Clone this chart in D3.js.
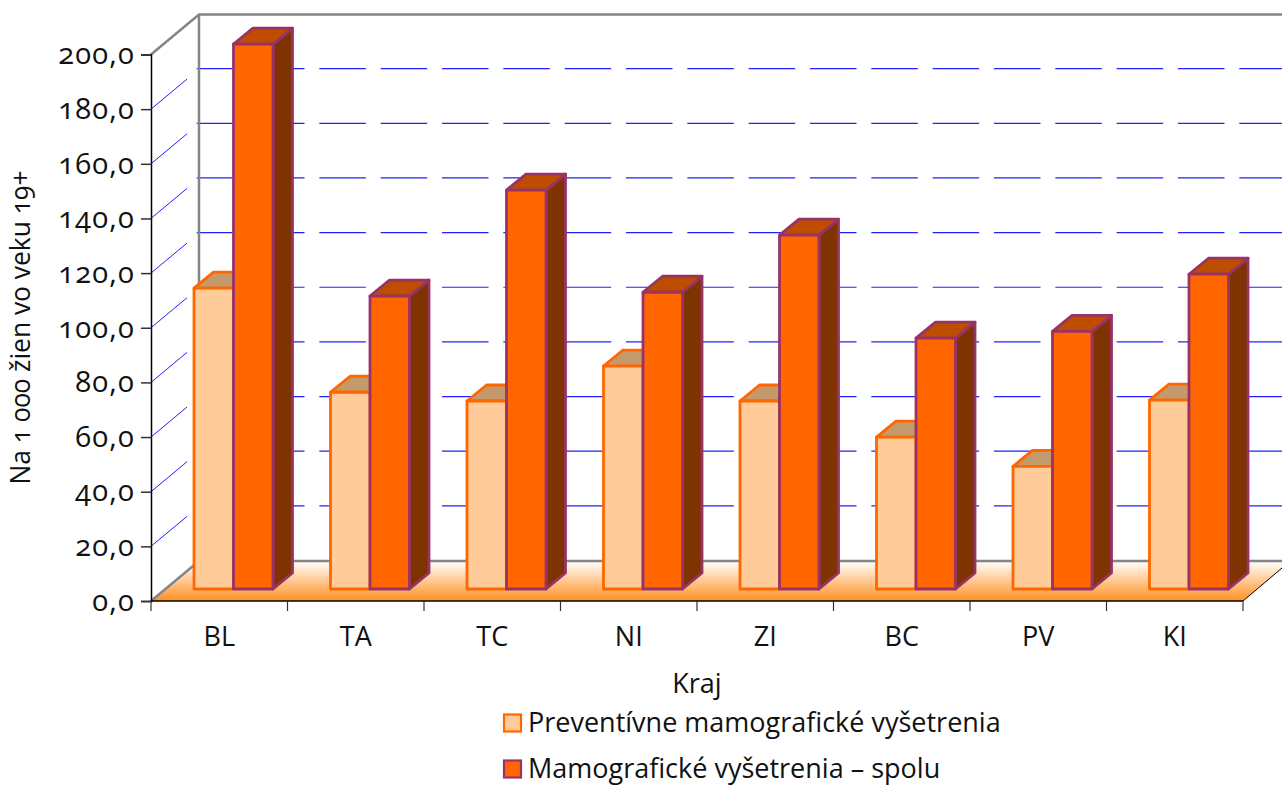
<!DOCTYPE html>
<html>
<head>
<meta charset="utf-8">
<script src="https://d3js.org/d3.v7.min.js"></script>
<style>
html, body { margin: 0; padding: 0; background: #fff; }
svg { display: block; }
text { font-family: "Open Sans", sans-serif; fill: #111; font-feature-settings: "onum" 1; font-variant-numeric: oldstyle-nums; }
</style>
</head>
<body>
<script>
var categories = ['BL', 'TA', 'TC', 'NI', 'ZI', 'BC', 'PV', 'KI'];
var preventive = [110.1, 72.0, 68.8, 81.6, 68.8, 55.6, 44.9, 69.1];
var total = [199.4, 107.2, 146.0, 108.6, 129.5, 91.8, 94.3, 115.2];
var yTicks = [0, 20, 40, 60, 80, 100, 120, 140, 160, 180, 200];
var seriesNames = ['Preventívne mamografické vyšetrenia', 'Mamografické vyšetrenia – spolu'];

var width = 1282;
var height = 785;

var svg = d3.select('body')
  .append('svg')
  .attr('width', width)
  .attr('height', height);

var x = d3.scaleBand()
    .domain(categories)
    .range([151, 1243]);

var y = d3.scaleLinear()
    .domain([0, 200])
    .range([601, 54.5]);

// wall offset of the fake 3d box, bar offset and bar depth
var wallX = 48, wallY = 40;
var shiftY = 12;
var barW = 39.5, barDX = 19.5, barDY = 16;

var defs = svg.append('defs');
var grad = defs.append('linearGradient')
  .attr('id', 'floor')
  .attr('x1', 0).attr('y1', 0).attr('x2', 0).attr('y2', 1);
grad.append('stop').attr('offset', '0%').attr('stop-color', '#ffffff');
grad.append('stop').attr('offset', '100%').attr('stop-color', '#ff9122');

// floor
svg.append('path')
  .attr('d', 'M' + x.range()[0] + ',' + y(0)
    + 'L' + (x.range()[0] + wallX) + ',' + (y(0) - wallY)
    + 'L' + width + ',' + (y(0) - wallY)
    + 'L' + width + ',' + (y(0) - 33)
    + 'L' + x.range()[1] + ',' + y(0) + 'Z')
  .attr('fill', 'url(#floor)');

// grid on the side wall and back wall
var gridTicks = yTicks.slice(1);
svg.selectAll('line.side')
  .data(gridTicks)
  .enter()
  .append('line')
  .attr('class', 'side')
  .attr('x1', x.range()[0])
  .attr('y1', function(d){ return y(d); })
  .attr('x2', x.range()[0] + 36)
  .attr('y2', function(d){ return y(d) - 30; })
  .attr('stroke', '#2222ff')
  .attr('stroke-width', 1);

svg.selectAll('line.back')
  .data(gridTicks.slice(0, -1))
  .enter()
  .append('line')
  .attr('class', 'back')
  .attr('x1', x.range()[0] + wallX - 2.3)
  .attr('y1', function(d){ return y(d) - wallY - 0.5; })
  .attr('x2', width)
  .attr('y2', function(d){ return y(d) - wallY - 0.5; })
  .attr('stroke', '#2222ff')
  .attr('stroke-width', 1.2)
  .attr('stroke-dasharray', '46.5,14.83');

// wall frame
svg.append('path')
  .attr('d', 'M' + x.range()[0] + ',' + y(0)
    + 'L' + (x.range()[0] + wallX) + ',' + (y(0) - wallY)
    + 'L' + width + ',' + (y(0) - wallY))
  .attr('fill', 'none')
  .attr('stroke', '#858585')
  .attr('stroke-width', 2.5);
svg.append('path')
  .attr('d', 'M' + x.range()[0] + ',' + y(200)
    + 'L' + (x.range()[0] + wallX) + ',' + (y(200) - wallY)
    + 'L' + width + ',' + (y(200) - wallY)
    + 'M' + (x.range()[0] + wallX) + ',' + (y(200) - wallY)
    + 'L' + (x.range()[0] + wallX) + ',' + (y(0) - wallY))
  .attr('fill', 'none')
  .attr('stroke', '#858585')
  .attr('stroke-width', 2.5);

// one 3d bar, v is the value and left the front left corner
function bar(left, v, front, top, side, edge) {
  var y0 = y(0) - shiftY, y1 = y(v) - shiftY;
  var g = svg.append('g')
    .attr('stroke', edge)
    .attr('stroke-width', 2.8)
    .attr('stroke-linejoin', 'round');
  g.append('path')
    .attr('d', 'M' + (left + barW) + ',' + y1
      + 'L' + (left + barW + barDX) + ',' + (y1 - barDY)
      + 'L' + (left + barW + barDX) + ',' + (y0 - barDY)
      + 'L' + (left + barW) + ',' + y0 + 'Z')
    .attr('fill', side);
  g.append('path')
    .attr('d', 'M' + left + ',' + y1
      + 'L' + (left + barDX) + ',' + (y1 - barDY)
      + 'L' + (left + barW + barDX) + ',' + (y1 - barDY)
      + 'L' + (left + barW) + ',' + y1 + 'Z')
    .attr('fill', top);
  g.append('rect')
    .attr('x', left)
    .attr('y', y1)
    .attr('width', barW)
    .attr('height', y0 - y1)
    .attr('fill', front);
}

categories.forEach(function(c, i) {
  var left = x(c) + 43;
  bar(left, preventive[i], '#ffcc99', '#c49a6c', '#c49a6c', '#ff6600');
  bar(left + barW, total[i], '#ff6600', '#bf4d00', '#7f3300', '#993366');
});

// axes
var yAxis = d3.axisLeft(y).tickValues(yTicks).tickSize(10).tickPadding(6)
  .tickFormat(function(d){ return d3.format('.1f')(d).replace('.', ','); });
var xAxis = d3.axisBottom(x).tickSize(0).tickPadding(26);

var gy = svg.append('g').attr('class', 'axis y')
  .attr('transform', 'translate(' + x.range()[0] + ',0)')
  .call(yAxis);
var gx = svg.append('g').attr('class', 'axis x')
  .attr('transform', 'translate(0,' + y(0) + ')')
  .call(xAxis);

gx.select('.domain').remove();
gx.append('line')
  .attr('x1', x.range()[0]).attr('x2', x.range()[1])
  .attr('stroke', '#000').attr('stroke-width', 1.5);
gx.selectAll('line.sep')
  .data(categories.concat(['end']))
  .enter()
  .append('line')
  .attr('class', 'sep')
  .attr('x1', function(d, i){ return x.range()[0] + i * x.step(); })
  .attr('x2', function(d, i){ return x.range()[0] + i * x.step(); })
  .attr('y1', 0).attr('y2', 10)
  .attr('stroke', '#333').attr('stroke-width', 1.2);

gy.select('.domain').attr('stroke', '#000').attr('stroke-width', 1.5);
gy.selectAll('.tick line').attr('stroke', '#333').attr('stroke-width', 1.5);
gy.selectAll('text').attr('font-size', 29).attr('letter-spacing', 1.2).style('font-family', '"Open Sans"');
gx.selectAll('text').attr('font-size', 27).style('font-family', '"Open Sans"');

// right hand edge of the floor
svg.append('line')
  .attr('x1', x.range()[1]).attr('y1', y(0))
  .attr('x2', width).attr('y2', y(0) - 33)
  .attr('stroke', '#000').attr('stroke-width', 1);

// titles
svg.append('text')
  .attr('transform', 'translate(30,327.5) rotate(-90)')
  .attr('text-anchor', 'middle')
  .attr('font-size', 26.4)
  .text('Na 1 000 žien vo veku 19+');
svg.append('text')
  .attr('x', 697).attr('y', 693)
  .attr('text-anchor', 'middle')
  .attr('font-size', 27)
  .text('Kraj');

// legend
var legendFill = ['#ffcc99', '#ff6600'];
var legendEdge = ['#ff6600', '#993366'];
var legendY = d3.scalePoint().domain(seriesNames).range([723, 769]);
var lg = svg.selectAll('g.legend')
  .data(seriesNames)
  .enter()
  .append('g')
  .attr('class', 'legend')
  .attr('transform', function(d){ return 'translate(504,' + legendY(d) + ')'; });
lg.append('rect')
  .attr('x', 0).attr('y', -8.5)
  .attr('width', 17).attr('height', 17)
  .attr('fill', function(d, i){ return legendFill[i]; })
  .attr('stroke', function(d, i){ return legendEdge[i]; })
  .attr('stroke-width', 2.2);
lg.append('text')
  .attr('x', 24).attr('y', 9)
  .attr('font-size', 27)
  .text(function(d){ return d; });
</script>
</body>
</html>
